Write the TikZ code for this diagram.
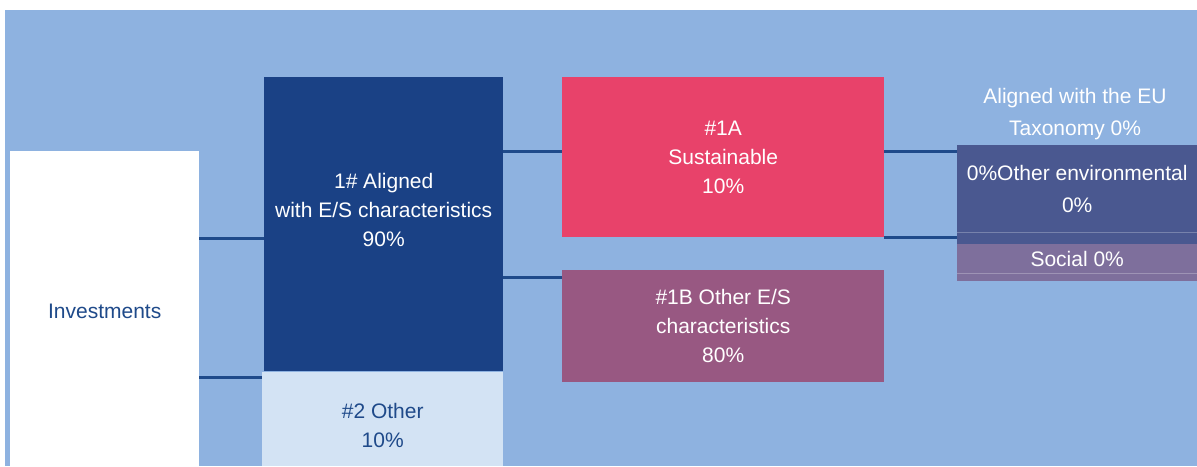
\documentclass[tikz,border=0pt]{standalone}
\usepackage{fontspec}
\setmainfont{Liberation Sans}
\usetikzlibrary{positioning}
\definecolor{skyblue}{HTML}{8EB2E0}
\definecolor{navy}{HTML}{1A4185}
\definecolor{paleblue}{HTML}{D3E3F4}
\definecolor{rose}{HTML}{E8426A}
\definecolor{plum}{HTML}{985882}
\definecolor{slate}{HTML}{4A5890}
\definecolor{lavender}{HTML}{7E6F9C}
\definecolor{linkblue}{HTML}{1F4A8A}

\begin{document}
\begin{tikzpicture}
[x=1pt, y=-1pt, every node/.style={rectangle, inner sep=0pt, align=center, text=white, font=\fontsize{21}{29}\selectfont},
 box/.style={anchor=north west}, link/.style={draw=linkblue, line width=3pt}, seam/.style={draw=#1, line width=1pt}]
\path[use as bounding box] (0,0) rectangle (1197,466);
\fill[skyblue] (5,10) rectangle (1197,466);
% left column
\node[box, fill=white, minimum width=189, minimum height=315,
  label={[text=linkblue, yshift=-3pt]center:Investments}] (inv) at (10,151) {};
\node[box, fill=navy, minimum width=239, minimum height=294,
  label={[yshift=14pt]center:{1\# Aligned\\with E/S characteristics\\90\%}}] (aligned) at (264,77) {};
\node[box, fill=paleblue, minimum width=241, minimum height=94,
  label={[text=linkblue, yshift=-6pt]center:{\#2 Other\\10\%}}] (other) at (262,372) {};
% middle column
\node[box, fill=rose, minimum width=322, minimum height=160] (sust) at (562,77) {\#1A\\Sustainable\\10\%};
\node[box, fill=plum, minimum width=322, minimum height=112] (otheres) at (562,270) {\#1B Other E/S\\characteristics\\80\%};
% right column
\node[font=\fontsize{21}{32}\selectfont] (taxo) at (1075,114) {Aligned with the EU\\Taxonomy 0\%};
\node[box, fill=slate, minimum width=240, minimum height=99,
  label={[font=\fontsize{21}{32}\selectfont, yshift=6pt]center:{0\%Other environmental\\0\%}}] (env) at (957,145) {};
\node[box, fill=lavender, minimum width=240, minimum height=37,
  label={[yshift=4pt]center:Social 0\%}] (social) at (957,244) {};
\draw[seam=slate!75!white] ([yshift=12pt]env.south west) -- ([yshift=12pt]env.south east);
\draw[seam=lavender!75!white] ([yshift=8pt]social.south west) -- ([yshift=8pt]social.south east);
% connectors
\draw[link] (inv.east |- 0,238) -- (aligned.west |- 0,238);
\draw[link] (inv.east |- 0,377) -- (other.west |- 0,377);
\draw[link] (aligned.east |- 0,151) -- (sust.west |- 0,151);
\draw[link] (aligned.east |- 0,277) -- (otheres.west |- 0,277);
\draw[link] (sust.east |- 0,151) -- (env.west |- 0,151);
\draw[link] (sust.east |- 0,237) -- (env.west |- 0,237);
\end{tikzpicture}
\end{document}
